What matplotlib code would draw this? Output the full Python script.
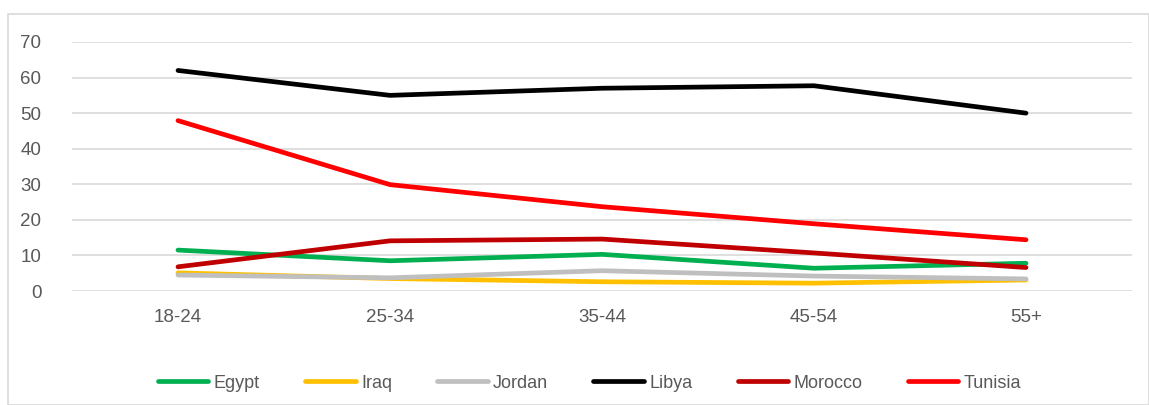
import matplotlib.pyplot as plt
from matplotlib.patches import Rectangle

age_groups = ['18-24', '25-34', '35-44', '45-54', '55+']
egypt = [11.5, 8.5, 10.3, 6.4, 7.8]
iraq = [5.1, 3.5, 2.6, 2.2, 3.1]
jordan = [4.5, 3.7, 5.7, 4.2, 3.4]
libya = [62.0, 55.0, 57.0, 57.7, 50.0]
morocco = [6.8, 14.1, 14.6, 10.7, 6.6]
tunisia = [47.9, 29.9, 23.7, 18.9, 14.4]

series = [
    ('Egypt', egypt, '#00b050'),
    ('Iraq', iraq, '#ffc000'),
    ('Jordan', jordan, '#bfbfbf'),
    ('Libya', libya, '#000000'),
    ('Morocco', morocco, '#c00000'),
    ('Tunisia', tunisia, '#ff0000'),
]

text_color = '#595959'
grid_color = '#d9d9d9'

fig = plt.figure(figsize=(11.49, 4.05), dpi=100)
ax = fig.add_axes([72 / 1149, 1 - 291 / 405, 1060 / 1149, 249 / 405])

# chart border
fig.patches.append(Rectangle((8 / 1149, 0), 1 - 8 / 1149 - 0.5 / 1149, 1 - 13.5 / 405,
                             transform=fig.transFigure, fill=False,
                             edgecolor=grid_color, linewidth=1.2))

x = list(range(len(age_groups)))
for name, values, color in series:
    ax.plot(x, values, color=color, linewidth=3.4, solid_capstyle='round',
            solid_joinstyle='round', label=name)

ax.set_xlim(-0.5, len(age_groups) - 0.5)
ax.set_ylim(0, 70)
ax.set_yticks(range(0, 71, 10))
ax.set_xticks(x)
ax.set_xticklabels(age_groups)
ax.yaxis.grid(True, color=grid_color, linewidth=1.2)
ax.set_axisbelow(True)
for spine in ax.spines.values():
    spine.set_visible(False)
ax.tick_params(axis='both', length=0, labelsize=13.5, labelcolor=text_color,
               labelfontfamily=['Liberation Sans', 'DejaVu Sans'])
ax.tick_params(axis='y', pad=22)
ax.tick_params(axis='x', pad=13)

fig.legend(loc='center', bbox_to_anchor=(0.513, 1 - 383 / 405), ncol=6,
           frameon=False, handlelength=2.8, handletextpad=0.3, columnspacing=2.5,
           prop={'family': ['Liberation Sans', 'DejaVu Sans'], 'size': 13},
           labelcolor=text_color)

fig.savefig('out.png', dpi=100)
